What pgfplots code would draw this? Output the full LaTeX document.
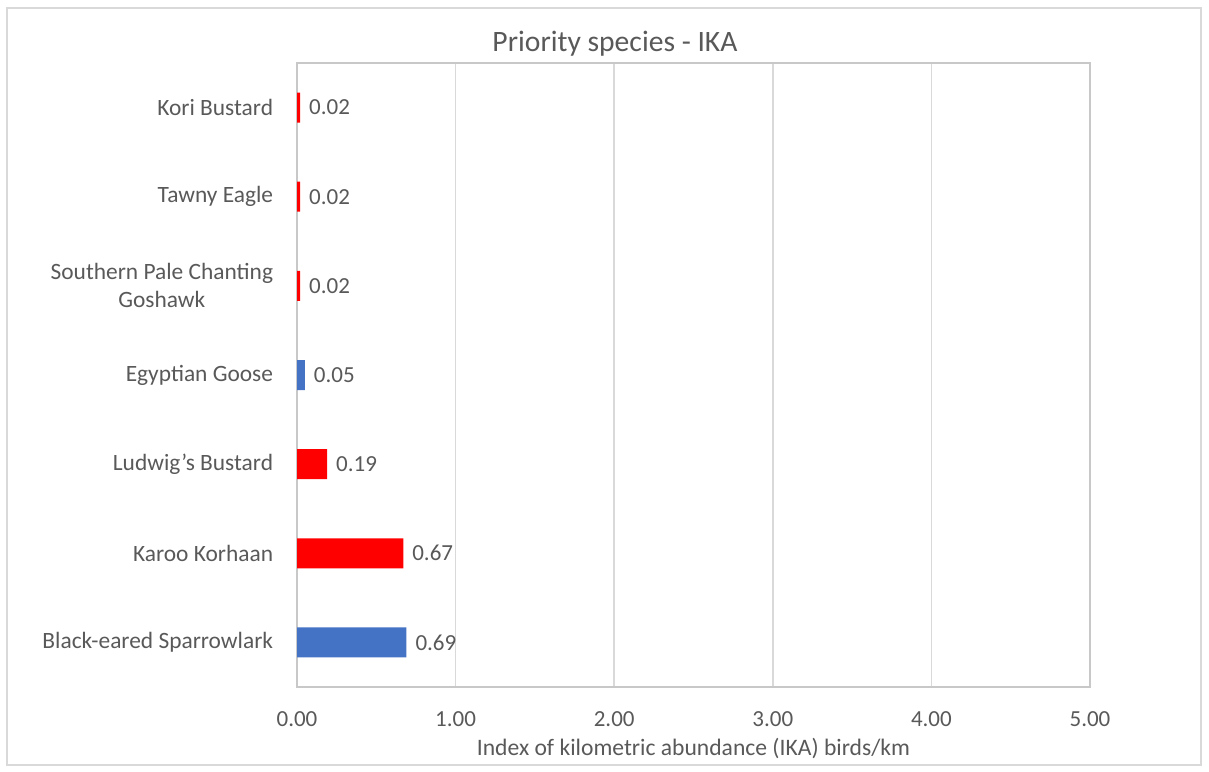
\documentclass[border=0pt]{standalone}
\usepackage{fontspec}
\setmainfont{Carlito}
\usepackage{pgfplots}
\pgfplotsset{compat=1.18}
\definecolor{txt}{RGB}{89,89,89}
\definecolor{gridc}{RGB}{217,217,217}
\definecolor{framec}{RGB}{200,200,200}
\definecolor{barred}{RGB}{255,0,0}
\definecolor{barblue}{RGB}{68,114,196}

\begin{document}
\begin{tikzpicture}
% picture is 1209x771 px at 0.5pt per px
\path[use as bounding box] (0pt,0pt) rectangle (604.5pt,385.5pt);
\draw[gridc, line width=0.8pt] (3.5pt,3pt) rectangle (600.5pt,381.5pt);
\begin{axis}[
at={(148.5pt,42pt)}, anchor=south west,
scale only axis,
width=396.5pt, height=312pt,
xbar, bar width=15pt, bar shift=0pt,
xmin=0, xmax=5,
ymin=-0.5, ymax=6.5,
xtick={0,1,2,3,4,5},
ytick={0,1,2,3,4,5,6},
yticklabels={Black-eared Sparrowlark, Karoo Korhaan, Ludwig's Bustard, Egyptian Goose, {Southern Pale Chanting\\Goshawk}, Tawny Eagle, Kori Bustard},
xmajorgrids,
grid style={gridc, line width=0.8pt},
axis line style={framec, line width=0.8pt},
tick style={draw=none},
/pgf/number format/assume math mode=true,
xticklabel style={/pgf/number format/.cd, fixed, fixed zerofill, precision=2, /tikz/.cd,
  anchor=center, yshift=-16pt, font=\fontsize{11.5}{13}\selectfont, text=txt},
yticklabel style={anchor=east, inner sep=0pt, xshift=-7.5pt, align=center,
  font=\fontsize{11.7}{14}\selectfont, text=txt},
xlabel={Index of kilometric abundance (IKA) birds/km},
xlabel style={at={(axis description cs:0.5,0)}, anchor=center, yshift=-31pt,
  font=\fontsize{11.8}{13}\selectfont, text=txt},
title={Priority species - IKA},
title style={at={(axis description cs:0.401,1)}, anchor=center, yshift=3.5pt,
  font=\fontsize{14.8}{16}\selectfont, text=txt},
nodes near coords,
nodes near coords style={anchor=west, xshift=1pt, text=txt,
  font=\fontsize{11.5}{13}\selectfont,
  /pgf/number format/.cd, fixed, fixed zerofill, precision=2},
]
\addplot[fill=barblue, draw=none] coordinates {(0.69,0) (0.05,3)};
\addplot[fill=barred, draw=none] coordinates {(0.67,1) (0.19,2) (0.02,4) (0.02,5) (0.02,6)};
\end{axis}
\end{tikzpicture}
\end{document}
